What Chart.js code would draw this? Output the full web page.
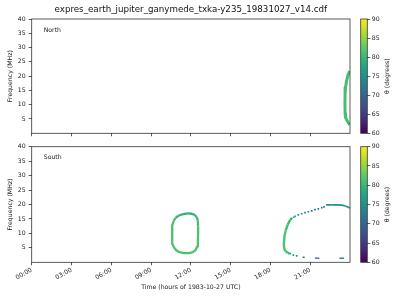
<!DOCTYPE html>
<html><head><meta charset="utf-8">
<script src="https://cdn.jsdelivr.net/npm/chart.js@4"></script>
<style>
html,body{margin:0;padding:0;background:#fff;width:400px;height:300px;overflow:hidden}
canvas{position:absolute}
</style></head><body>
<canvas id="cNorth" width="400" height="140" style="left:0;top:0"></canvas>
<canvas id="cSouth" width="400" height="160" style="left:0;top:140px"></canvas>
<canvas id="cbNorth" width="45" height="140" style="left:355px;top:0"></canvas>
<canvas id="cbSouth" width="45" height="140" style="left:355px;top:140px"></canvas>
<script>
// ---------- texts & ticks ----------
const titleText = 'expres_earth_jupiter_ganymede_txka-y235_19831027_v14.cdf';
const hourTicks = [0, 3, 6, 9, 12, 15, 18, 21];
const hourLabels = ['00:00', '03:00', '06:00', '09:00', '12:00', '15:00', '18:00', '21:00'];
const freqTicks = [5, 10, 15, 20, 25, 30, 35, 40];
const thetaTicks = [60, 65, 70, 75, 80, 85, 90];
const thetaRange = [60, 90];

// ---------- North hemisphere (hours, MHz, theta deg) ----------
const northH = [23.98, 23.86, 23.76, 23.66, 23.63, 23.62, 23.63, 23.66, 23.76, 23.88, 24.0];
const northF = [21.8, 20.5, 18.7, 16.0, 14.0, 10.5, 7.0, 5.6, 4.6, 3.6, 3.0];
const northTheta = [81, 81, 81, 81, 81, 81, 81, 81, 81, 81, 81];

// ---------- South hemisphere ----------
const ovalH = [11.8, 11.4, 11.1, 10.85, 10.7, 10.6, 10.58, 10.58, 10.62, 10.72, 10.9, 11.15, 11.5, 11.85, 12.15, 12.35, 12.48, 12.53, 12.55, 12.55, 12.52, 12.45, 12.3, 12.05, 11.8];
const ovalF = [16.9, 16.7, 16.2, 15.4, 14.3, 12.8, 11.0, 8.5, 6.5, 5.2, 4.2, 3.5, 3.2, 3.2, 3.5, 4.2, 5.5, 7.5, 10.0, 12.5, 14.5, 15.6, 16.4, 16.8, 16.9];
const ovalTheta = [79, 79.5, 80, 81, 81.5, 81.5, 81.5, 81.5, 81.5, 81.5, 81.5, 81.5, 81.5, 81.5, 81.5, 81.5, 81.5, 81.5, 81.5, 81, 80.5, 79.5, 79, 79, 79];

const arcH = [19.63, 19.48, 19.3, 19.15, 19.06, 19.02, 19.02, 19.06, 19.15, 19.3, 19.45];
const arcF = [15.4, 14.6, 13.0, 11.0, 9.0, 7.0, 5.5, 4.5, 3.8, 3.3, 3.0];
const arcTheta = [80, 80.5, 81, 81.5, 81.5, 81.5, 81.5, 81.5, 81, 80, 79];

const upperH = [19.75, 19.86, 20.1, 20.36, 20.61, 20.86, 21.11, 21.36, 21.61, 21.87, 22.04];
const upperF = [15.6, 15.9, 16.4, 16.8, 17.2, 17.5, 17.8, 18.2, 18.5, 18.9, 19.2];
const upperTheta = [78, 76, 75, 74, 73, 72.5, 72, 72, 72, 72, 72.5];

const crestH = [22.2, 22.6, 23.0, 23.4, 23.65, 23.85, 24.0];
const crestF = [19.85, 19.85, 19.85, 19.8, 19.5, 19.1, 18.8];
const crestTheta = [74, 74.5, 74.5, 75, 76, 77, 77];

const lowH = [19.5, 19.73, 19.98];
const lowF = [3.0, 2.5, 2.2];
const lowTheta = [78, 76, 75];

const dashAH = [20.43, 20.58], dashAF = [1.75, 1.75], dashATheta = [70, 70];
const dashBH = [21.36, 21.69], dashBF = [1.45, 1.45], dashBTheta = [68, 68];
const dashCH = [23.2, 23.55], dashCF = [1.4, 1.4], dashCTheta = [74.5, 74.5];

// ---------- colour map ----------
const VIR = ['#440154','#482475','#414487','#355f8d','#2a788e','#21918c','#22a884','#44bf70','#7ad151','#bddf26','#fde725'];
function hexRgb(h){ return [1,3,5].map(i => parseInt(h.substr(i,2),16)); }
function viridis(t){
  t = Math.max(0, Math.min(1, t));
  const p = t * (VIR.length - 1), i = Math.min(VIR.length - 2, Math.floor(p)), f = p - i;
  const a = hexRgb(VIR[i]), b = hexRgb(VIR[i+1]);
  return 'rgb(' + a.map((v,k) => Math.round(v + (b[k]-v)*f)).join(',') + ')';
}
function thetaColor(th){ return viridis((th - thetaRange[0]) / (thetaRange[1] - thetaRange[0])); }

// ---------- helpers ----------
function pts(h, f){ return h.map((x, i) => ({x: x, y: f[i]})); }
function lineSet(h, f, th, w){
  return { data: pts(h, f), showLine: true, borderWidth: w, pointRadius: 0, clip: 0,
    borderColor: thetaColor(th[0]), borderCapStyle: 'butt', borderJoinStyle: 'round', tension: 0,
    segment: { borderColor: c => thetaColor(th[c.p0DataIndex]) } };
}
function dotSet(h, f, th, r){
  return { data: pts(h, f), showLine: false, pointStyle: 'rect', pointRadius: r, pointBorderWidth: 0, clip: 0,
    pointBackgroundColor: th.map(thetaColor) };
}

Chart.defaults.font.family = "'DejaVu Sans', sans-serif";
Chart.defaults.font.size = 6.2;
Chart.defaults.color = '#222';
Chart.defaults.animation = false;
Chart.defaults.events = [];

const AX = '#333';
const framePlugin = { id: 'frame', afterDatasetsDraw(chart){
  const {ctx, chartArea: a} = chart; ctx.save(); ctx.strokeStyle = AX; ctx.lineWidth = 0.8;
  ctx.strokeRect(a.left, a.top, a.right - a.left, a.bottom - a.top); ctx.restore(); } };
function panelLabel(text){ return { id: 'panelLabel', afterDraw(chart){
  const {ctx, chartArea: a} = chart; ctx.save(); ctx.fillStyle = '#222'; ctx.font = "6.2px 'DejaVu Sans'";
  ctx.textBaseline = 'middle'; ctx.textAlign = 'left'; ctx.fillText(text, a.left + 12, a.top + 11); ctx.restore(); } }; }

function mainOptions(showLabels, padTop, xHeight, withTitle){
  return {
    responsive: false,
    layout: { padding: { left: 0, right: 50, top: padTop, bottom: 0 } },
    plugins: {
      legend: { display: false }, tooltip: { enabled: false },
      title: { display: withTitle, text: titleText, fullSize: false, color: '#111',
        font: { size: 8.7, weight: 'normal' }, padding: { top: 5, bottom: 3.56 } }
    },
    scales: {
      x: { type: 'linear', min: 0, max: 24,
        afterBuildTicks: s => { s.ticks = hourTicks.map(v => ({value: v})); },
        afterFit: s => { s.height = xHeight; },
        grid: { drawOnChartArea: false, drawTicks: true, tickLength: 3, color: AX, lineWidth: 0.8 },
        border: { display: false },
        ticks: { display: showLabels, autoSkip: false, minRotation: 30, maxRotation: 30, padding: 1,
          callback: v => hourLabels[hourTicks.indexOf(v)] },
        title: { display: showLabels, text: 'Time (hours of 1983-10-27 UTC)', padding: { top: 0, bottom: 9.3 } } },
      y: { min: 0, max: 40,
        afterBuildTicks: s => { s.ticks = freqTicks.map(v => ({value: v})); },
        afterFit: s => { s.width = 31.7; },
        grid: { drawOnChartArea: false, drawTicks: true, tickLength: 3, color: AX, lineWidth: 0.8 },
        border: { display: false },
        ticks: { padding: 3 },
        title: { display: true, text: 'Frequency (MHz)', padding: { top: 6.5, bottom: 0 } } }
    }
  };
}

new Chart(document.getElementById('cNorth'), {
  type: 'scatter',
  data: { datasets: [ lineSet(northH, northF, northTheta, 3) ] },
  options: mainOptions(false, 0, 6.7, true),
  plugins: [framePlugin, panelLabel('North')]
});

new Chart(document.getElementById('cSouth'), {
  type: 'scatter',
  data: { datasets: [
    lineSet(ovalH, ovalF, ovalTheta, 2.3),
    lineSet(arcH, arcF, arcTheta, 2.4),
    dotSet(upperH, upperF, upperTheta, 1.2),
    lineSet(crestH, crestF, crestTheta, 1.8),
    dotSet(lowH, lowF, lowTheta, 1.2),
    lineSet(dashAH, dashAF, dashATheta, 1.4),
    lineSet(dashBH, dashBF, dashBTheta, 1.4),
    lineSet(dashCH, dashCF, dashCTheta, 1.4)
  ] },
  options: mainOptions(true, 6.7, 37.7, false),
  plugins: [framePlugin, panelLabel('South')]
});

// ---------- colour bars ----------
function colorbar(id, padTop, padBottom){
  const cbLabel = { id: 'cbLabel', afterDraw(chart){
    const {ctx, chartArea: a} = chart; ctx.save(); ctx.fillStyle = '#222'; ctx.font = "6.2px 'DejaVu Sans'";
    ctx.textAlign = 'center'; ctx.textBaseline = 'middle';
    ctx.translate(32.7, (a.top + a.bottom) / 2); ctx.rotate(-Math.PI / 2);
    ctx.fillText('\u03b8 (degrees)', 0, 0); ctx.restore(); } };
  new Chart(document.getElementById(id), {
    type: 'bar',
    data: { labels: ['theta'], datasets: [{ data: [[thetaRange[0], thetaRange[1]]], borderWidth: 0,
      barPercentage: 1, categoryPercentage: 1,
      backgroundColor: c => { const ch = c.chart; if (!ch.chartArea) return VIR[5];
        const y = ch.scales.y; const g = ch.ctx.createLinearGradient(0, y.getPixelForValue(thetaRange[0]), 0, y.getPixelForValue(thetaRange[1]));
        VIR.forEach((col, i) => g.addColorStop(i / (VIR.length - 1), col)); return g; } }] },
    options: {
      responsive: false,
      layout: { padding: { left: 5.7, right: 0, top: padTop, bottom: padBottom } },
      plugins: { legend: { display: false }, tooltip: { enabled: false } },
      scales: {
        x: { display: false },
        y: { position: 'right', min: thetaRange[0], max: thetaRange[1],
          afterBuildTicks: s => { s.ticks = thetaTicks.map(v => ({value: v})); },
          afterFit: s => { s.width = 32.7; },
          grid: { drawOnChartArea: false, drawTicks: true, tickLength: 3, color: AX, lineWidth: 0.8 },
          border: { display: false },
          ticks: { padding: 1.5 } }
      }
    },
    plugins: [framePlugin, cbLabel]
  });
}
colorbar('cbNorth', 19, 6.7);
colorbar('cbSouth', 6.7, 17.7);
</script>
</body></html>
